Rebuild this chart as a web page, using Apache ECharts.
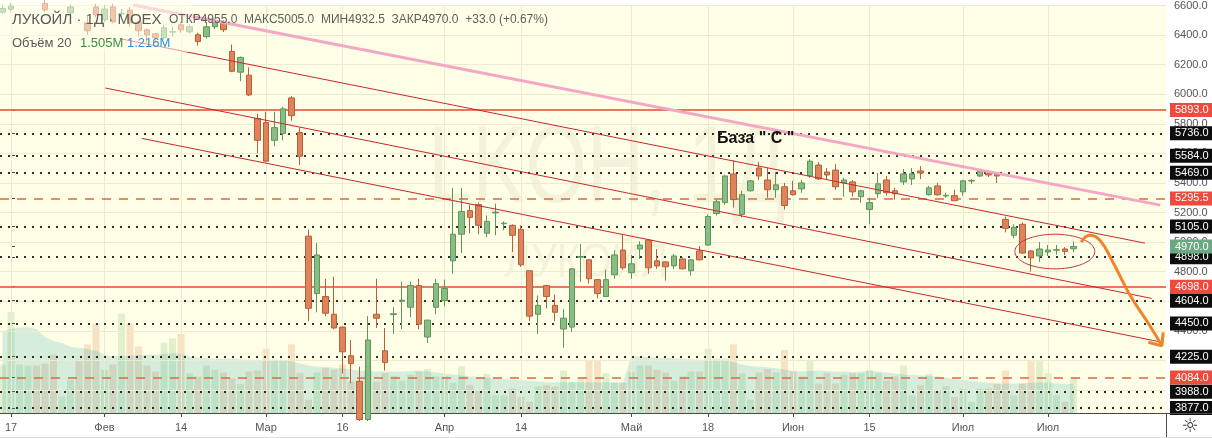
<!DOCTYPE html>
<html><head><meta charset="utf-8">
<script src="https://cdn.jsdelivr.net/npm/echarts@6/dist/echarts.min.js"></script>
<style>html,body{margin:0;padding:0;background:#fff}#c{width:1212px;height:438px}</style>
</head><body><div id="c"></div>
<script>
// ---- data (day index starts at -1; index 0 = 17 Jan) ----
const firstDay = -1;
// [open, close, low, high]
const ohlc = [
[6555,6580,6545,6600],[6575,6595,6560,6620],[6640,6665,6625,6690],[6660,6690,6640,6710],[6670,6640,6620,6700],
[6615,6570,6555,6640],[6640,6620,6610,6660],[6620,6645,6610,6660],[6550,6590,6540,6605],[6625,6610,6605,6650],
[6483,6429,6402,6523],[6590,6536,6523,6610],[6503,6576,6490,6603],[6590,6489,6480,6610],[6543,6547,6523,6576],
[6569,6483,6456,6590],[6489,6429,6389,6500],[6436,6402,6349,6445],[6409,6382,6349,6415],[6382,6449,6369,6469],
[6420,6423,6389,6456],[6469,6436,6416,6489],[6422,6456,6410,6470],[6402,6356,6329,6416],[6389,6456,6376,6489],
[6456,6490,6440,6510],[6483,6436,6420,6500],[6289,6155,6149,6336],[6149,6249,6088,6255],[6129,5995,5988,6182],
[5835,5688,5601,5868],[5808,5547,5541,5881],[5688,5774,5648,5881],[5734,5901,5688,5915],[5975,5855,5821,5988],
[5741,5581,5521,5774],[5040,4552,4465,5086],[4652,4913,4525,4993],[4632,4519,4499,4752],[4512,4419,4410,4766],
[4425,4258,4111,4430],[4231,4178,4044,4338],[4058,3800,3790,4158],[3800,4338,3790,4499],[4512,4485,4419,4752],
[4265,4185,4131,4419],[4510,4515,4378,4559],[4600,4607,4412,4732],[4559,4706,4492,4732],[4706,4445,4412,4752],
[4358,4472,4318,4475],[4559,4719,4512,4752],[4605,4686,4565,4746],[4873,5053,4786,5367],[5053,5207,4926,5367],
[5213,5167,5060,5253],[5253,5113,5053,5267],[5060,5140,5033,5180],[5197,5203,5046,5260],[5124,5128,5080,5140],
[5113,5046,4933,5120],[5086,4846,4833,5113],[4806,4499,4465,4806],[4512,4572,4378,4639],[4706,4632,4552,4710],
[4572,4525,4465,4646],[4412,4485,4285,4546],[4425,4819,4392,4825],[4898,4902,4732,4986],[4880,4752,4719,4885],
[4746,4652,4620,4750],[4632,4746,4632,4813],[4779,4913,4752,4946],[4946,4826,4813,5046],[4793,4853,4752,4913],
[4953,4980,4886,5006],[5013,4826,4786,5020],[4873,4839,4819,4953],[4866,4833,4739,4870],[4839,4906,4819,4920],
[4886,4819,4815,4895],[4806,4880,4773,4885],[4940,4880,4875,4973],[4980,5173,4975,5187],[5193,5273,5180,5287],
[5267,5447,5253,5454],[5461,5287,5233,5554],[5187,5320,5167,5347],[5347,5414,5340,5420],[5501,5447,5420,5541],
[5420,5354,5300,5501],[5354,5387,5300,5474],[5374,5247,5220,5400],[5347,5320,5314,5414],[5360,5400,5334,5420],
[5447,5547,5434,5561],[5521,5427,5420,5541],[5474,5454,5420,5501],[5487,5374,5354,5527],[5400,5420,5307,5434],
[5407,5340,5307,5420],[5307,5347,5267,5354],[5220,5267,5120,5300],[5327,5394,5300,5467],[5420,5334,5314,5447],
[5347,5327,5287,5367],[5407,5461,5387,5494],[5427,5461,5387,5501],[5481,5467,5427,5514],[5320,5367,5314,5380],
[5380,5320,5314,5400],[5312,5316,5300,5334],[5314,5280,5280,5354],[5340,5414,5314,5420],[5413,5416,5394,5427],
[5447,5481,5440,5487],[5467,5454,5440,5487],[5461,5447,5400,5467],[5153,5093,5066,5173],[5046,5100,5026,5120],
[5120,4926,4920,5133],[4940,4893,4800,4945],[4906,4953,4866,5000],[4933,4946,4906,4980],[4945,4948,4915,4980],
[4953,4937,4913,4966],[4955,4970,4932.5,5005]
];
// volume, millions
const volumes = [
2.02,4.21,2.02,1.98,1.98,2.06,2.44,0.70,1.38,2.23,2.86,3.72,1.80,2.02,4.14,3.72,2.77,1.98,1.73,2.93,
3.11,3.29,1.66,1.52,1.98,1.80,1.69,1.45,1.21,1.73,1.77,2.68,2.23,2.16,2.86,1.66,0.56,1.69,1.87,1.80,
2.02,1.30,1.02,1.83,1.30,1.66,1.55,1.35,1.59,1.73,1.83,1.52,1.52,1.26,1.94,1.16,0.95,1.63,0.74,0.74,
1.02,0.67,0.46,1.10,1.16,1.10,1.77,1.30,1.50,2.20,2.20,1.66,1.26,1.26,1.70,1.98,1.98,1.80,1.69,1.35,
1.52,1.73,1.73,2.68,2.26,2.26,2.86,1.66,0.56,1.69,1.83,1.69,2.63,1.73,1.52,2.20,1.23,1.66,1.23,1.59,
1.66,1.66,1.77,1.66,1.35,1.52,1.98,0.74,1.16,1.63,0.95,1.13,0.67,1.02,0.46,1.02,1.02,1.23,1.77,0.74,
1.23,2.16,2.16,1.66,0.74,0.46,1.505
];
// volume moving average (20), millions
const volumeMA = [
3.42,3.50,3.56,3.58,3.50,3.17,3.00,2.92,2.76,2.72,2.67,2.59,2.43,2.35,2.39,2.39,2.43,2.43,2.43,2.47,
2.49,2.47,2.35,2.30,2.28,2.26,2.26,2.26,2.24,2.22,2.22,2.18,2.18,2.18,2.16,2.06,1.98,1.93,1.93,1.89,
1.85,1.81,1.77,1.73,1.73,1.73,1.73,1.73,1.75,1.77,1.73,1.69,1.65,1.60,1.56,1.52,1.50,1.48,1.44,1.42,
1.40,1.36,1.34,1.32,1.28,1.28,1.28,1.28,1.28,1.28,1.28,1.28,1.28,1.28,2.37,2.35,2.33,2.30,2.30,2.28,
2.26,2.24,2.22,2.22,2.22,2.20,2.12,2.02,1.96,1.93,1.91,1.87,1.81,1.75,1.73,1.75,1.77,1.75,1.73,1.73,
1.71,1.73,1.77,1.73,1.69,1.65,1.60,1.58,1.56,1.54,1.52,1.48,1.42,1.38,1.34,1.28,1.26,1.23,1.23,1.23,
1.23,1.26,1.28,1.26,1.23,1.21,1.216
];
const dateTickIndex = [0, 11, 20, 30, 39, 51, 60, 73, 82, 92, 101, 112, 122];
const dateTickLabels = ['17','Фев','14','Мар','16','Апр','14','Май','18','Июн','15','Июл','Июл'];
const priceTicks = [4000,4200,4400,4600,4800,5000,5200,5400,5600,5800,6000,6200,6400,6600];
const solidLevels = [5893, 4698];
const dashedLevels = [5295.5, 4084];
const dottedLevels = [5736, 5584, 5469, 5105, 4898, 4604, 4450, 4225, 3988, 3877];
const lastPrice = 4970;
// drawings in (day index, price)
const pinkLine = [[14.4, 6603], [135.2, 5250]];
const channelTop = [[12.8, 6376], [133.4, 4993]];
const channelMid = [[11.1, 6042], [134.2, 4619]];
const channelLow = [[15.4, 5701], [135.2, 4325]];
const arrowPath = [[125.9,5000],[126.9,5046],[128.1,5013],[129.5,4879],[131.6,4646],[134.0,4432],[135.4,4298]];
const arrowHead = [[133.8,4322],[135.4,4298],[135.55,4390]];
const ellipseSpec = [[122.8, 4936, 4.7, 117]];

// ---- chart ----
const FONT = '"Liberation Sans", Arial, sans-serif';
const chart = echarts.init(document.getElementById('c'));
const idx = ohlc.map((_, k) => k + firstDay);
const candleData = ohlc.map((r, k) => [idx[k], r[0], r[1], r[2], r[3]]);
const volData = volumes.map((v, k) => ({
  value: [idx[k], v],
  itemStyle: { color: ohlc[k][1] >= ohlc[k][0] ? 'rgba(83,165,70,0.17)' : 'rgba(215,115,60,0.2)' }
}));
const maData = volumeMA.map((v, k) => [idx[k], v]);

const gridLineColor = '#ecebcd';
const gridMarks = priceTicks.map(v => ({ yAxis: v })).concat(dateTickIndex.map(v => ({ xAxis: v })));

function levelItem(v, lineStyle, bg) {
  return {
    yAxis: v, lineStyle: lineStyle,
    label: { show: true, position: 'end', distance: 4, formatter: p => Number(p.value).toFixed(1),
      color: '#fff', backgroundColor: bg, padding: [1, 6, 1, 5], fontSize: 11, fontFamily: FONT, lineHeight: 12 }
  };
}
const levelMarks = []
  .concat(solidLevels.map(v => levelItem(v, { color: 'rgba(232,96,66,0.85)', width: 2, type: 'solid' }, '#ef4a3c')))
  .concat(dashedLevels.map(v => levelItem(v, { color: 'rgba(222,110,80,0.8)', width: 2, type: [9, 8] }, '#ef4a3c')))
  .concat(dottedLevels.map(v => levelItem(v, { color: '#2e2e2e', width: 2, type: [2, 6] }, '#0d0d0d')))
  .concat([levelItem(lastPrice, { color: 'rgba(0,0,0,0)', width: 1 }, '#6aa984')]);

function trend(data, color, width, z) {
  return { type: 'line', data: data, symbol: 'none', silent: true, z: z, clip: true,
    lineStyle: { color: color, width: width }, animation: false };
}

const option = {
  animation: false,
  backgroundColor: '#ffffff',
  grid: { left: 0, right: 46, top: 0, bottom: 25, show: true, backgroundColor: '#fffee6', borderWidth: 0 },
  xAxis: {
    type: 'value', min: -1.294, max: 135.88,
    axisLine: { show: true, onZero: false, lineStyle: { color: '#4a4a4a', width: 1 } },
    axisTick: { show: true, length: 4, customValues: dateTickIndex, lineStyle: { color: '#4a4a4a' } },
    axisLabel: { customValues: dateTickIndex, margin: 9, color: '#555', fontSize: 11, fontFamily: FONT,
      formatter: v => { const k = dateTickIndex.indexOf(Math.round(v)); return k >= 0 ? dateTickLabels[k] : ''; } },
    splitLine: { show: false }
  },
  yAxis: [{
    type: 'value', position: 'right', min: 3844, max: 6603, scale: true,
    axisLine: { show: true, lineStyle: { color: '#4a4a4a', width: 1 } },
    axisTick: { show: true, length: 4, customValues: priceTicks.concat(solidLevels, dashedLevels, dottedLevels, [lastPrice]), lineStyle: { color: '#4a4a4a' } },
    axisLabel: { customValues: priceTicks, margin: 8, color: '#555', fontSize: 11, fontFamily: FONT, formatter: v => v.toFixed(1) },
    splitLine: { show: false }
  }, {
    type: 'value', min: 0, max: 17, show: false
  }],
  series: [
    { type: 'line', data: [[0, 5000]], symbol: 'none', lineStyle: { width: 0 }, z: 1, silent: true,
      markLine: { silent: true, symbol: ['none', 'none'], label: { show: false }, animation: false,
        lineStyle: { color: gridLineColor, width: 1, type: 'solid' }, data: gridMarks } },
    { type: 'bar', yAxisIndex: 1, data: volData, barWidth: 7, z: 2, silent: true },
    { type: 'line', yAxisIndex: 1, data: maData, symbol: 'none', z: 3, silent: true,
      lineStyle: { width: 0 }, areaStyle: { color: 'rgba(20,160,170,0.25)' } },
    { type: 'candlestick', data: candleData, encode: { x: 0, y: [1, 2, 3, 4] }, barWidth: 6, z: 5, clip: true,
      itemStyle: { color: '#88bd84', borderColor: '#5f955a', color0: '#e0825a', borderColor0: '#b5603a', borderWidth: 1 } },
    trend(pinkLine, '#f4a7c4', 3, 6),
    trend(channelTop, '#c8282e', 1, 6),
    trend(channelMid, '#c8282e', 1, 6),
    trend(channelLow, '#c8282e', 1, 6),
    { type: 'line', data: [[0, 5000]], symbol: 'none', lineStyle: { width: 0 }, z: 7, silent: true,
      markLine: { silent: true, symbol: ['none', 'none'], animation: false, data: levelMarks } },
    { type: 'custom', data: ellipseSpec, z: 8, silent: true, clip: false,
      renderItem: (params, api) => {
        const c = api.coord([api.value(0), api.value(1)]);
        const s = api.size([api.value(2), api.value(3)]);
        const pts = [];
        for (let k = 0; k <= 90; k++) { const a = k / 90 * Math.PI * 2; pts.push([c[0] + s[0] * Math.cos(a), c[1] + s[1] * Math.sin(a)]); }
        return { type: 'polyline', shape: { points: pts }, style: { fill: 'none', stroke: '#c8323c', lineWidth: 1 } };
      } },
    Object.assign(trend(arrowPath, '#f0842e', 3, 8), { smooth: 0.45, clip: false }),
    Object.assign(trend(arrowHead, '#f0842e', 3, 8), { clip: false })
  ],
  graphic: [
    { type: 'text', z: 1, silent: true, x: 607, y: 172, scaleX: 0.72,
      style: { text: 'LKOH, 1Д', font: '110px ' + FONT, fill: 'rgba(70,70,40,0.06)', textAlign: 'center', textVerticalAlign: 'middle' } },
    { type: 'text', z: 1, silent: true, x: 586, y: 264, scaleX: 0.85,
      style: { text: 'ЛУКОЙЛ', font: '48px ' + FONT, fill: 'rgba(70,70,40,0.06)', textAlign: 'center', textVerticalAlign: 'middle' } },
    { type: 'rect', z: 100, silent: true, shape: { x: 0, y: 0, width: 193, height: 52 }, style: { fill: 'rgba(255,255,238,0.55)' } },
    { type: 'text', z: 101, x: 12, y: 20, style: { text: 'ЛУКОЙЛ · 1Д · MOEX', font: '15px ' + FONT, fill: '#5a5a5a', textVerticalAlign: 'middle' } },
    { type: 'text', z: 101, x: 169, y: 20, style: { text: 'ОТКР4955.0  МАКС5005.0  МИН4932.5  ЗАКР4970.0  +33.0 (+0.67%)', font: '12px ' + FONT, fill: '#5e5e5e', textVerticalAlign: 'middle' } },
    { type: 'text', z: 101, x: 12, y: 43, style: { text: 'Объём 20', font: '13px ' + FONT, fill: '#5a5a5a', textVerticalAlign: 'middle' } },
    { type: 'text', z: 101, x: 80, y: 43, style: { text: '1.505M', font: '13px ' + FONT, fill: '#3a8f3e', textVerticalAlign: 'middle' } },
    { type: 'text', z: 101, x: 127, y: 43, style: { text: '1.216M', font: '13px ' + FONT, fill: '#2d8fe0', textVerticalAlign: 'middle' } },
    { type: 'text', z: 101, x: 717, y: 139, style: { text: 'База " С "', font: 'bold 16px ' + FONT, fill: '#111', textVerticalAlign: 'middle' } },
    { type: 'line', z: 101, silent: true, shape: { x1: 1166.5, y1: 413, x2: 1166.5, y2: 438 }, style: { stroke: '#4a4a4a', lineWidth: 1 } },
    { type: 'line', z: 101, silent: true, shape: { x1: 1166, y1: 413.5, x2: 1212, y2: 413.5 }, style: { stroke: '#4a4a4a', lineWidth: 1 } },
    { type: 'line', z: 101, silent: true, shape: { x1: 0, y1: 437.5, x2: 1212, y2: 437.5 }, style: { stroke: '#e0e0e0', lineWidth: 1 } },
    { type: 'text', z: 101, x: 1190, y: 427, style: { text: '☼', font: '19px "DejaVu Sans"', fill: '#333', textAlign: 'center', textVerticalAlign: 'middle' } }
  ]
};
chart.setOption(option);
</script>
</body></html>
